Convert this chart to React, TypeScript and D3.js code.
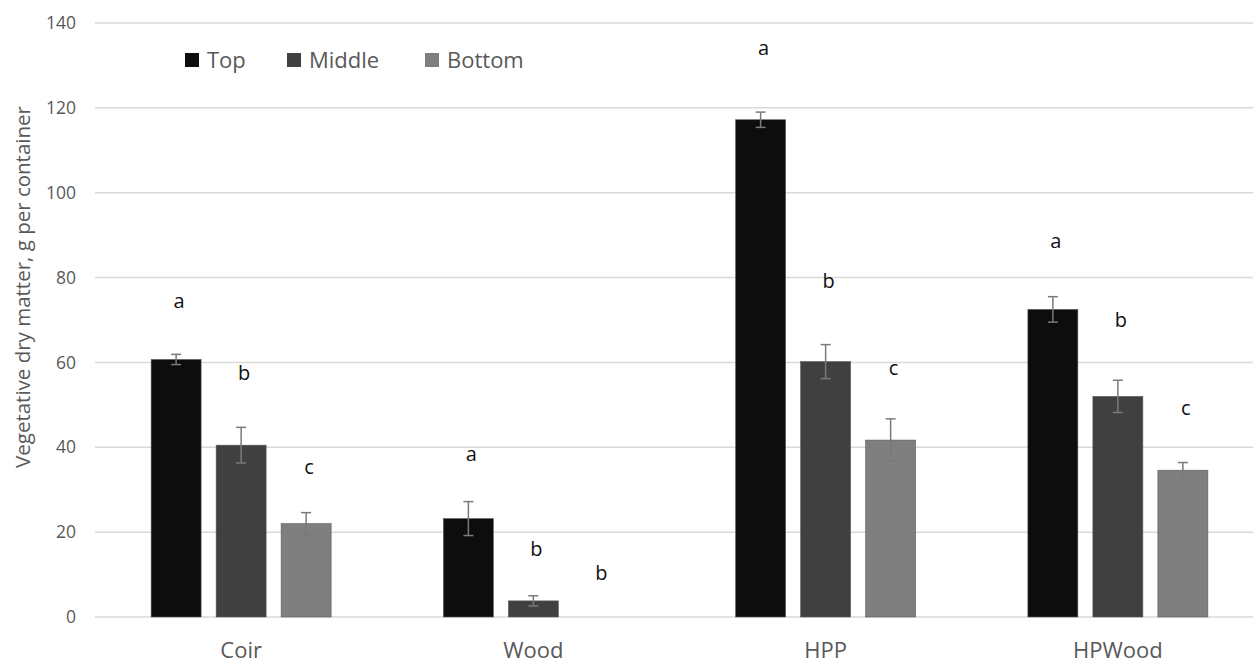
import React from "react";
import * as d3 from "d3";

const categories = ["Coir", "Wood", "HPP", "HPWood"];
const seriesNames = ["Top", "Middle", "Bottom"];
const seriesColors = ["#0d0d0d", "#404040", "#7f7f7f"];

const topValues = [60.7, 23.2, 117.2, 72.5];
const middleValues = [40.5, 3.8, 60.2, 52.0];
const bottomValues = [22.0, 0, 41.7, 34.6];

const topErrors = [1.2, 4.0, 1.8, 3.0];
const middleErrors = [4.2, 1.2, 4.0, 3.8];
const bottomErrors = [2.6, 0, 5.0, 1.8];

const topLetters = ["a", "a", "a", "a"];
const middleLetters = ["b", "b", "b", "b"];
const bottomLetters = ["c", "b", "c", "c"];

// letter label baseline heights (data units)
const topLetterY = [72.8, 36.8, 132.5, 87.0];
const middleLetterY = [55.9, 14.4, 77.5, 68.4];
const bottomLetterY = [33.7, 8.7, 57.0, 47.6];

const yTicks = [0, 20, 40, 60, 80, 100, 120, 140];
const yTitle = "Vegetative dry matter, g per container";

const values = [topValues, middleValues, bottomValues];
const errors = [topErrors, middleErrors, bottomErrors];
const letters = [topLetters, middleLetters, bottomLetters];
const letterY = [topLetterY, middleLetterY, bottomLetterY];

const W = 1253;
const H = 663;
const FONT = "'Open Sans', 'Liberation Sans', sans-serif";

export default function App() {
  const x0 = d3.scaleBand<string>().domain(categories).range([95, 1264]).padding(0);
  const bw = x0.bandwidth();
  const groupW = 180;
  const x1 = d3
    .scaleBand<string>()
    .domain(seriesNames)
    .range([(bw - groupW) / 2, (bw + groupW) / 2])
    .paddingInner(0.231)
    .paddingOuter(0);
  const y = d3.scaleLinear().domain([0, 140]).range([617, 23]);

  const legendX = [185, 287, 425];

  return (
    <div style={{ position: "fixed", left: 0, top: 0 }}>
      <svg width={W} height={H} style={{ display: "block", background: "#fff" }}>
        {/* gridlines */}
        {yTicks.map((t) => (
          <line key={"g" + t} x1={95} x2={W} y1={y(t)} y2={y(t)} stroke="#d9d9d9" strokeWidth={1.5} />
        ))}
        {/* y tick labels */}
        {yTicks.map((t) => (
          <text
            key={"t" + t}
            x={76}
            y={y(t)}
            dy="0.35em"
            textAnchor="end"
            fontFamily={FONT}
            fontSize={17.5}
            fill="#595959"
          >
            {t}
          </text>
        ))}
        {/* y title */}
        <text
          transform={`translate(30,287) rotate(-90)`}
          textAnchor="middle"
          fontFamily={FONT}
          fontSize={20.5}
          fill="#595959"
        >
          {yTitle}
        </text>
        {/* bars */}
        {categories.map((c, ci) => (
          <g key={c} transform={`translate(${x0(c)},0)`}>
            {seriesNames.map((s, si) => {
              const v = values[si][ci];
              const e = errors[si][ci];
              const bx = x1(s) as number;
              const cx = bx + x1.bandwidth() / 2;
              return (
                <g key={s}>
                  {v > 0 && (
                    <rect
                      x={bx}
                      y={y(v)}
                      width={x1.bandwidth()}
                      height={y(0) - y(v)}
                      fill={seriesColors[si]}
                      stroke="#5a5a5a"
                      strokeWidth={0.6}
                    />
                  )}
                  {e > 0 && (
                    <g stroke="#7a7a7a" strokeWidth={1.5}>
                      <line x1={cx} x2={cx} y1={y(v + e)} y2={y(v - e)} />
                      <line x1={cx - 5} x2={cx + 5} y1={y(v + e)} y2={y(v + e)} />
                      <line x1={cx - 5} x2={cx + 5} y1={y(v - e)} y2={y(v - e)} />
                    </g>
                  )}
                  <text
                    x={cx + 3}
                    y={y(letterY[si][ci])}
                    textAnchor="middle"
                    fontFamily={FONT}
                    fontSize={20}
                    fill="#111"
                  >
                    {letters[si][ci]}
                  </text>
                </g>
              );
            })}
          </g>
        ))}
        {/* category labels */}
        {categories.map((c) => (
          <text
            key={"c" + c}
            x={(x0(c) as number) + bw / 2}
            y={657.5}
            textAnchor="middle"
            fontFamily={FONT}
            fontSize={22}
            fill="#595959"
          >
            {c}
          </text>
        ))}
        {/* legend */}
        {seriesNames.map((s, si) => (
          <g key={"l" + s}>
            <rect x={legendX[si]} y={53} width={14} height={14} fill={seriesColors[si]} />
            <text
              x={legendX[si] + 22}
              y={60}
              dy="0.35em"
              fontFamily={FONT}
              fontSize={22}
              fill="#595959"
            >
              {s}
            </text>
          </g>
        ))}
      </svg>
    </div>
  );
}
